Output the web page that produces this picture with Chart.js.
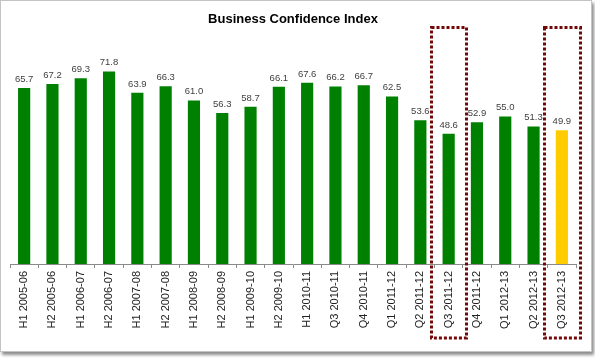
<!DOCTYPE html>
<html>
<head>
<meta charset="utf-8">
<script src="https://cdn.jsdelivr.net/npm/chart.js@4.4.1/dist/chart.umd.min.js"></script>
<style>
  html, body { margin: 0; padding: 0; background: #ffffff; }
  #wrap { position: relative; width: 595px; height: 358px; overflow: hidden; background: #fff; }
  #frame { position: absolute; left: 0; top: 0; width: 590px; height: 350px; border: 1px solid #c4c4c4; background: #fff; box-shadow: 2px 3px 3px rgba(0,0,0,0.45); }
  #c { position: absolute; left: 0; top: 0; }
</style>
</head>
<body>
<div id="wrap">
  <div id="frame"></div>
  <canvas id="c" width="595" height="358"></canvas>
</div>
<script>
const categories = [
  "H1 2005-06", "H2 2005-06", "H1 2006-07", "H2 2006-07", "H1 2007-08",
  "H2 2007-08", "H1 2008-09", "H2 2008-09", "H1 2009-10", "H2 2009-10",
  "H1 2010-11", "Q3 2010-11", "Q4 2010-11", "Q1 2011-12", "Q2 2011-12",
  "Q3 2011-12", "Q4 2011-12", "Q1 2012-13", "Q2 2012-13", "Q3 2012-13"
];
const values = [
  65.7, 67.2, 69.3, 71.8, 63.9,
  66.3, 61.0, 56.3, 58.7, 66.1,
  67.6, 66.2, 66.7, 62.5, 53.6,
  48.6, 52.9, 55.0, 51.3, 49.9
];
const highlighted = ["Q3 2011-12", "Q3 2012-13"];
const titleText = "Business Confidence Index";

const barColors = values.map((v, i) => i === values.length - 1 ? "#FFCC00" : "#008000");

const valueLabels = {
  id: "valueLabels",
  afterDatasetsDraw(chart) {
    const ctx = chart.ctx;
    const meta = chart.getDatasetMeta(0);
    ctx.save();
    ctx.font = "9.5px 'Liberation Sans', Arial, sans-serif";
    ctx.fillStyle = "#404040";
    ctx.textAlign = "center";
    ctx.textBaseline = "bottom";
    meta.data.forEach((bar, i) => {
      ctx.fillText(values[i].toFixed(1), bar.x, bar.y - 4);
    });
    ctx.restore();
  }
};

const boxes = {
  id: "boxes",
  afterDraw(chart) {
    const ctx = chart.ctx;
    const xs = chart.scales.x;
    const cw = xs.getPixelForValue(1) - xs.getPixelForValue(0);
    const top = chart.chartArea.top - 22;
    const bottom = chart.chartArea.bottom + 74;
    ctx.save();
    ctx.strokeStyle = "#720808";
    ctx.lineWidth = 3;
    ctx.setLineDash([3, 2]);
    highlighted.forEach(cat => {
      const idx = categories.indexOf(cat);
      const cx = xs.getPixelForValue(idx);
      const l = Math.round(cx - 0.63 * cw) + 0.5;
      const r = Math.round(cx + 0.63 * cw) + 0.5;
      ctx.strokeRect(l, top, r - l, bottom - top);
    });
    ctx.restore();
  }
};

new Chart(document.getElementById("c"), {
  type: "bar",
  data: {
    labels: categories,
    datasets: [{
      data: values,
      backgroundColor: barColors,
      borderWidth: 0,
      barPercentage: 0.43,
      categoryPercentage: 1.0
    }]
  },
  options: {
    responsive: false,
    devicePixelRatio: 1,
    animation: false,
    layout: { padding: { left: 10, right: 19, top: 0, bottom: 0 } },
    plugins: {
      legend: { display: false },
      tooltip: { enabled: false },
      title: {
        display: true,
        text: titleText,
        color: "#000000",
        font: { family: "'Liberation Sans', Arial, sans-serif", size: 13, weight: "bold" },
        padding: { top: 12, bottom: 22 }
      }
    },
    scales: {
      y: {
        display: false,
        min: 0,
        max: 80
      },
      x: {
        offset: true,
        afterFit(scale) { scale.height = 94; },
        border: { display: true, color: "#8a8a8a", width: 1 },
        grid: {
          display: true,
          drawOnChartArea: false,
          drawTicks: true,
          tickLength: 4,
          color: "#8a8a8a",
          offset: true
        },
        ticks: {
          autoSkip: false,
          maxRotation: 90,
          minRotation: 90,
          padding: 3,
          color: "#222222",
          font: { family: "'Liberation Sans', Arial, sans-serif", size: 11 }
        }
      }
    }
  },
  plugins: [valueLabels, boxes]
});
</script>
</body>
</html>
